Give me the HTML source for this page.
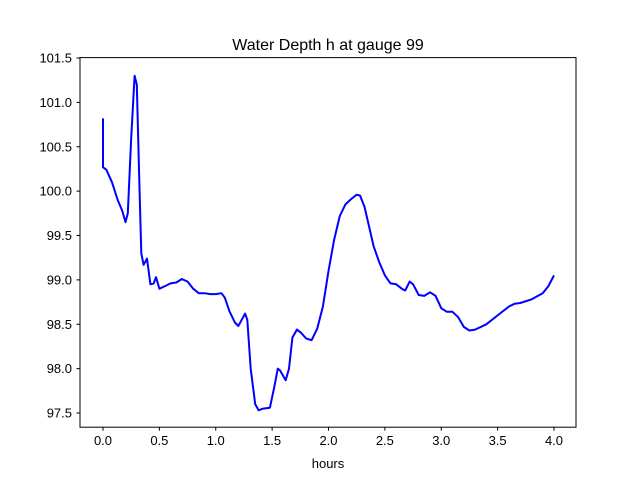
<!DOCTYPE html>
<html><head><meta charset="utf-8"><style>
html,body{margin:0;padding:0;background:#fff;}
svg{display:block;font-family:"Liberation Sans","DejaVu Sans",sans-serif;}
</style></head><body>
<svg id="chart" width="640" height="480">
<rect width="640" height="480" fill="#fff"/>
<text x="328" y="50" text-anchor="middle" font-size="16">Water Depth h at gauge 99</text>
<g id="ticks"></g>
<path id="line" fill="none" stroke="#0000ff" stroke-width="2" stroke-linejoin="round"/>
<rect x="80" y="57.6" width="496" height="369.6" fill="none" stroke="#000" stroke-width="1"/>
<text x="328" y="468" text-anchor="middle" font-size="13">hours</text>
</svg>
<script>
const hours=[0,0,0.03,0.08,0.13,0.17,0.2,0.22,0.25,0.28,0.30,0.32,0.34,0.36,0.39,0.42,0.45,0.47,0.5,0.55,0.6,0.65,0.7,0.75,0.8,0.85,0.9,0.95,1.0,1.05,1.08,1.12,1.17,1.2,1.23,1.26,1.28,1.31,1.35,1.38,1.42,1.48,1.52,1.55,1.57,1.62,1.65,1.68,1.72,1.76,1.8,1.85,1.9,1.95,2.0,2.05,2.1,2.15,2.2,2.25,2.28,2.32,2.36,2.4,2.45,2.5,2.55,2.6,2.65,2.68,2.72,2.75,2.8,2.85,2.9,2.95,3.0,3.05,3.1,3.15,3.2,3.25,3.3,3.4,3.5,3.6,3.65,3.7,3.8,3.9,3.95,4.0];
const depth=[100.82,100.27,100.24,100.1,99.9,99.78,99.65,99.75,100.6,101.3,101.2,100.2,99.3,99.17,99.24,98.95,98.96,99.03,98.9,98.93,98.96,98.97,99.01,98.98,98.9,98.85,98.85,98.84,98.84,98.85,98.8,98.65,98.52,98.48,98.55,98.62,98.55,98.0,97.6,97.53,97.55,97.56,97.8,98.0,97.98,97.87,98.0,98.35,98.44,98.4,98.34,98.32,98.45,98.7,99.1,99.45,99.72,99.85,99.91,99.96,99.95,99.82,99.6,99.38,99.2,99.05,98.96,98.95,98.9,98.88,98.98,98.95,98.83,98.82,98.86,98.82,98.68,98.64,98.64,98.58,98.47,98.43,98.44,98.5,98.6,98.7,98.73,98.74,98.78,98.85,98.93,99.05];
const xTicks=[0,0.5,1,1.5,2,2.5,3,3.5,4];
const xTickLabels=["0.0","0.5","1.0","1.5","2.0","2.5","3.0","3.5","4.0"];
const yTicks=[97.5,98,98.5,99,99.5,100,100.5,101,101.5];
const yTickLabels=["97.5","98.0","98.5","99.0","99.5","100.0","100.5","101.0","101.5"];
const X=v=>103+v*112.75;
const Y=v=>58+(101.5-v)*88.75;
const NS="http://www.w3.org/2000/svg";
const g=document.getElementById('ticks');
function mk(tag,attrs){const e=document.createElementNS(NS,tag);for(const k in attrs)e.setAttribute(k,attrs[k]);return e;}
xTicks.forEach((t,i)=>{
  const l=mk('line',{x1:X(t),x2:X(t),y1:427.2,y2:430.7,stroke:'#000'});
  
  
  g.appendChild(l);
  const tx=mk('text',{x:X(t),y:445,'text-anchor':'middle','font-size':13});
  
  
  tx.textContent=xTickLabels[i];g.appendChild(tx);
});
yTicks.forEach((t,i)=>{
  const l=mk('line',{x1:76.5,x2:80,y1:Y(t),y2:Y(t),stroke:'#000'});
  
  
  g.appendChild(l);
  const tx=mk('text',{x:72,y:Y(t)+4.5,'text-anchor':'end','font-size':13});
  
  
  tx.textContent=yTickLabels[i];g.appendChild(tx);
});
document.getElementById('line').setAttribute('d',hours.map((h,i)=>(i?'L':'M')+X(h).toFixed(1)+','+Y(depth[i]).toFixed(1)).join(''));
</script>
</body></html>
